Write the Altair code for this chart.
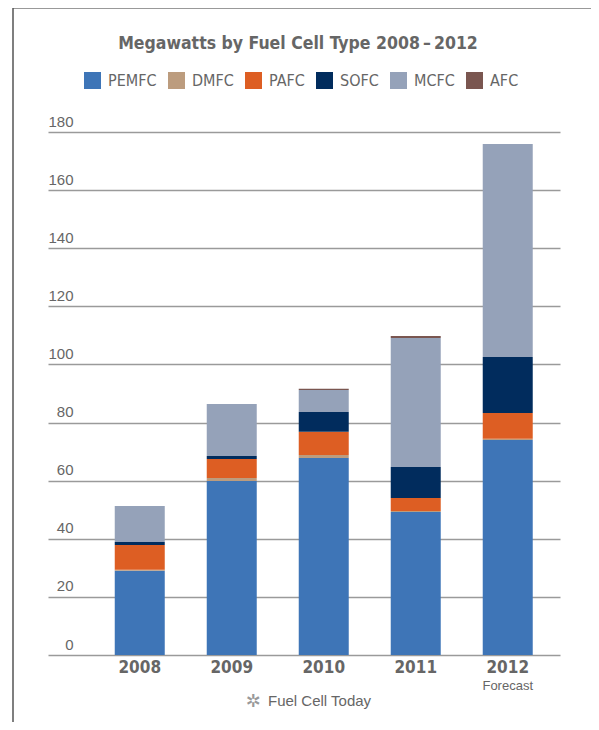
import altair as alt
import pandas as pd

years = ["2008", "2009", "2010", "2011", "2012"]
types = ["PEMFC", "DMFC", "PAFC", "SOFC", "MCFC", "AFC"]
colors = ["#3e75b7", "#bc9c7e", "#dd5e23", "#012c5d", "#95a2b9", "#7a5650"]
PEMFC = [29.0, 59.9, 67.8, 49.2, 74.0]
DMFC = [0.3, 1.0, 1.0, 0.4, 0.4]
PAFC = [8.6, 6.6, 8.0, 4.4, 8.9]
SOFC = [1.0, 1.0, 6.8, 10.7, 19.3]
MCFC = [12.4, 17.9, 7.6, 44.4, 73.3]
AFC = [0.0, 0.0, 0.4, 0.7, 0.0]
y_ticks = [0, 20, 40, 60, 80, 100, 120, 140, 160, 180]
title_text = "Megawatts by Fuel Cell Type 2008\u2009\u2013\u20092012"

series = {"PEMFC": PEMFC, "DMFC": DMFC, "PAFC": PAFC, "SOFC": SOFC, "MCFC": MCFC, "AFC": AFC}
rows = []
for i, t in enumerate(types):
    for y, v in zip(years, series[t]):
        rows.append({"year": y, "type": t, "value": v, "order": i})
df = pd.DataFrame(rows)

W, H = 512, 523
NARROW = "'DejaVu Sans Condensed', 'Liberation Sans'"
GRAY = "#666666"

bars = alt.Chart(df).mark_bar(size=50).encode(
    x=alt.X("year:N", sort=years,
            scale=alt.Scale(paddingInner=0.4565, paddingOuter=0.511, align=0.71),
            axis=alt.Axis(title=None, domain=False, ticks=False, grid=False,
                          labelFont=NARROW, labelFontWeight="bold", labelFontSize=17,
                          labelColor=GRAY, labelPadding=4, labelAngle=0)),
    y=alt.Y("value:Q", stack="zero",
            scale=alt.Scale(domain=[0, 180], nice=False),
            axis=alt.Axis(title=None, values=y_ticks, domain=False, ticks=False,
                          grid=True, gridColor="#9a9a9a", gridWidth=1.5,
                          labelAlign="right", labelPadding=-25, labelBaseline="alphabetic",
                          labelOffset=-6, labelFont="Liberation Sans", labelFontSize=15,
                          labelColor=GRAY)),
    color=alt.Color("type:N", sort=types,
                    scale=alt.Scale(domain=types, range=colors),
                    legend=alt.Legend(title=None, orient="none", legendX=36, legendY=-60,
                                      direction="horizontal", columns=6,
                                      symbolType="square", symbolSize=289,
                                      symbolStrokeWidth=0, labelFont=NARROW,
                                      labelFontSize=16, labelColor=GRAY, labelOffset=7,
                                      columnPadding=11)),
    order=alt.Order("order:Q", sort="ascending"),
)

fc = pd.DataFrame({"year": ["2012"], "label": ["Forecast"]})
forecast = alt.Chart(fc).mark_text(font="Liberation Sans", fontSize=13, color=GRAY,
                                   baseline="alphabetic").encode(
    x=alt.X("year:N", sort=years), y=alt.value(558), text="label:N")

foot = pd.DataFrame({"t": ["Fuel Cell Today"], "s": ["\u2732"], "title": [title_text]})
title = alt.Chart(foot).mark_text(font=NARROW, fontSize=17.5, fontWeight="bold", color=GRAY,
                                  align="center", baseline="alphabetic").encode(
    x=alt.value(250), y=alt.value(-83), text="title:N")
footer = alt.Chart(foot).mark_text(font="Liberation Sans", fontSize=15, color=GRAY,
                                   align="left", baseline="alphabetic").encode(
    x=alt.value(220), y=alt.value(574), text="t:N")
star = alt.Chart(foot).mark_text(font="DejaVu Sans", fontSize=18, color="#999999",
                                 align="center", baseline="alphabetic").encode(
    x=alt.value(205), y=alt.value(575), text="s:N")

frame_top = alt.Chart(foot).mark_rule(color="#777777", strokeWidth=1.5).encode(
    x=alt.value(-35), x2=alt.value(549), y=alt.value(-124))
frame_left = alt.Chart(foot).mark_rule(color="#555555", strokeWidth=1.5).encode(
    x=alt.value(-35), y=alt.value(-124), y2=alt.value(600))
frame_right = alt.Chart(foot).mark_rule(color="#999999", strokeWidth=1.5).encode(
    x=alt.value(549), y=alt.value(-124), y2=alt.value(600))

chart = alt.layer(bars, forecast, title, footer, star, frame_top, frame_left, frame_right).properties(
    width=W, height=H,
    autosize=alt.AutoSizeParams(type="none"),
    padding={"left": 40, "top": 124, "right": 31, "bottom": 67},
).configure_view(stroke=None)

chart.save("out.html", embed_options={"renderer": "svg", "actions": False})
